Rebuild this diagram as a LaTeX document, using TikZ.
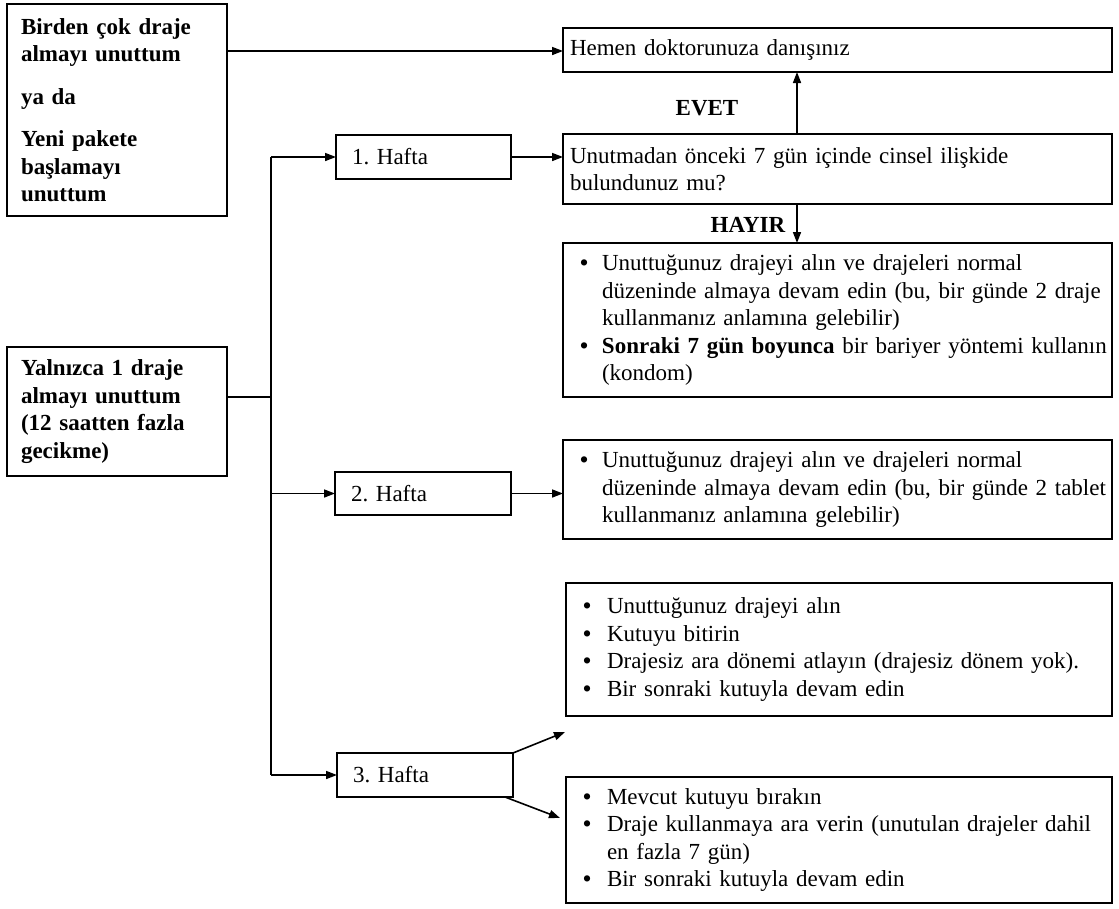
\documentclass[tikz,border=0pt]{standalone}
\usepackage{fontspec}
\setmainfont{Liberation Serif}
\usetikzlibrary{arrows.meta}
\frenchspacing
\newcommand{\bitem}[2][22pt]{\mbox{\makebox[#1][l]{\textbf{\textbullet}}#2}}
\newcommand{\cont}[2][22pt]{\mbox{\hspace*{#1}#2}}
\tikzset{
  box/.style={draw, line width=1.6pt, rectangle, inner ysep=0pt, outer sep=0pt,
    anchor=north west, align=left, font=\fontsize{23}{27.5}\selectfont},
  lbl/.style={font=\fontsize{23}{27.5}\selectfont\bfseries, inner sep=0pt},
  arr/.style={line width=1.6pt, -{Triangle[length=11pt,width=8pt]}},
  ln/.style={line width=1.6pt}
}
\begin{document}
\begin{tikzpicture}[x=1pt,y=-1pt]
\useasboundingbox (0,0) rectangle (1119,908);
% left boxes
\node[box, font=\fontsize{23}{27.5}\selectfont\bfseries, inner xsep=14pt, text width=192pt,
  minimum width=220pt, minimum height=212pt] (A) at (7,4)
  {\mbox{Birden çok draje}\\\mbox{almayı unuttum}\\[15pt]ya da\\[15pt]\mbox{Yeni pakete}\\başlamayı\\unuttum};
\node[box, font=\fontsize{23}{27.5}\selectfont\bfseries, inner xsep=14pt, text width=192pt,
  minimum width=220pt, minimum height=129pt] (Y) at (7,347)
  {\mbox{Yalnızca 1 draje}\\\mbox{almayı unuttum}\\\mbox{(12 saatten fazla}\\gecikme)};
% week boxes
\node[box, inner xsep=16pt, text width=143pt, minimum width=175pt, minimum height=44pt] (W1) at (336,135) {1. Hafta};
\node[box, inner xsep=16pt, text width=144pt, minimum width=176pt, minimum height=43pt] (W2) at (335,472) {2. Hafta};
\node[box, inner xsep=16pt, text width=144pt, minimum width=176pt, minimum height=44pt] (W3) at (337,753) {3. Hafta};
% right boxes
\node[box, inner xsep=7pt, text width=535pt, minimum width=549pt, minimum height=44pt] (H) at (563,28)
  {Hemen doktorunuza danışınız};
\node[box, inner xsep=7pt, text width=535pt, minimum width=549pt, minimum height=70pt] (Q) at (563,134)
  {\mbox{Unutmadan önceki 7 gün içinde cinsel ilişkide}\\bulundunuz mu?};
\node[box, inner xsep=17pt, text width=515pt, minimum width=549pt, minimum height=154pt] (B1) at (563,243)
  {\bitem{Unuttuğunuz drajeyi alın ve drajeleri normal}\\
   \cont{düzeninde almaya devam edin (bu, bir günde 2 draje}\\
   \cont{kullanmanız anlamına gelebilir)}\\
   \bitem{\textbf{Sonraki 7 gün boyunca} bir bariyer yöntemi kullanın}\\
   \cont{(kondom)}};
\node[box, inner xsep=17pt, text width=515pt, minimum width=549pt, minimum height=99pt] (B2) at (563,440)
  {\bitem{Unuttuğunuz drajeyi alın ve drajeleri normal}\\
   \cont{düzeninde almaya devam edin (bu, bir günde 2 tablet}\\
   \cont{kullanmanız anlamına gelebilir)}};
\node[box, inner xsep=17pt, text width=512pt, minimum width=546pt, minimum height=133pt] (B3) at (566,583)
  {\bitem[24pt]{Unuttuğunuz drajeyi alın}\\
   \bitem[24pt]{Kutuyu bitirin}\\
   \bitem[24pt]{Drajesiz ara dönemi atlayın (drajesiz dönem yok).}\\
   \bitem[24pt]{Bir sonraki kutuyla devam edin}};
\node[box, inner xsep=17pt, text width=512pt, minimum width=546pt, minimum height=126pt] (B4) at (566,777)
  {\bitem[24pt]{Mevcut kutuyu bırakın}\\
   \bitem[24pt]{Draje kullanmaya ara verin (unutulan drajeler dahil}\\
   \cont[24pt]{en fazla 7 gün)}\\
   \bitem[24pt]{Bir sonraki kutuyla devam edin}};
% labels
\node[lbl] (evet) at (707,108) {EVET};
\node[lbl] (hayir) at (748,225) {HAYIR};
% coordinates
\coordinate (tTop) at (271,157);
\coordinate (tBot) at (271,775);
\coordinate (ev) at (797,0);
\coordinate (hA) at (0,51);
\coordinate (u) at (565,732);
\coordinate (d) at (560,818);
% connectors
\draw[arr] (A.east |- hA) -- (H.west |- hA);
\draw[ln] (tTop) -- (tBot);
\draw[ln] ([yshift=14.5pt]Y.east) -- ([yshift=14.5pt]Y.east -| tTop);
\draw[arr] (tTop) -- (W1.west);
\draw[arr] (tBot |- W2.west) -- (W2.west);
\draw[arr] (tBot) -- (W3.west);
\draw[arr] (W1.east) -- (W1.east -| Q.west);
\draw[arr] (Q.north -| ev) -- (H.south -| ev);
\draw[arr] (Q.south -| ev) -- (B1.north -| ev);
\draw[arr] (W2.east) -- (W2.east -| B2.west);
\draw[arr] (W3.north east) -- (u);
\draw[arr] ([xshift=-8pt]W3.south east) -- (d);
\end{tikzpicture}
\end{document}
